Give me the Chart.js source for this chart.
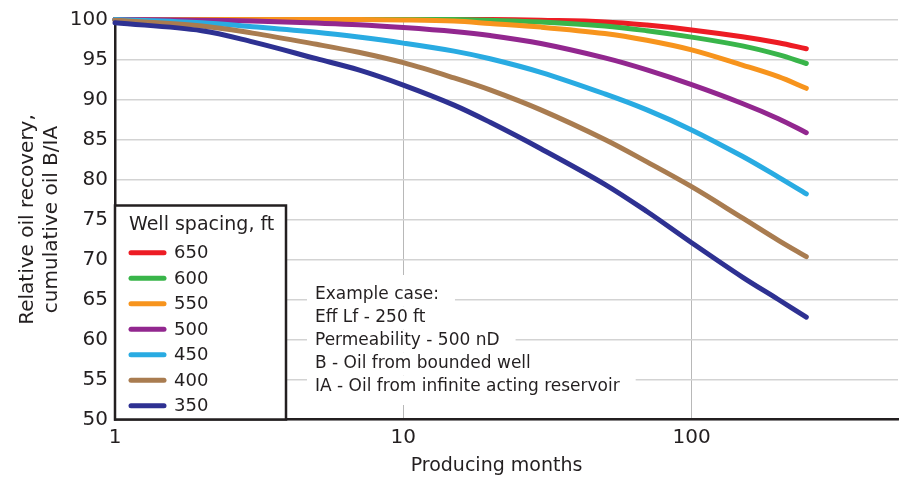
<!DOCTYPE html>
<html><head><meta charset="utf-8">
<script src="https://cdn.jsdelivr.net/npm/chart.js@4.4.1/dist/chart.umd.min.js"></script>
<style>html,body{margin:0;padding:0;background:#fff}canvas{display:block}</style>
</head><body>
<canvas id="c" width="911" height="479"></canvas>
<script>
// ---- data ----
const months     = [1,   2,    3,    5,    7,    10,   15,   20,   30,   50,   70,   100,  150,  200,  250];
const spacing650 = [100, 100,  100,  100,  100,  100,  100,  100,  99.9, 99.7, 99.3, 98.7, 97.85,97.1, 96.35];
const spacing600 = [100, 100,  100,  100,  100,  100,  100,  99.9, 99.7, 99.2, 98.6, 97.8, 96.7, 95.6, 94.5];
const spacing550 = [100, 100,  100,  100,  100,  99.95,99.8, 99.5, 99.05,98.25,97.4, 96.2, 94.3, 92.85,91.4];
const spacing500 = [100, 99.9, 99.8, 99.55,99.35,99.0, 98.5, 98.0, 97.0, 95.2, 93.7, 91.85,89.5, 87.6, 85.85];
const spacing450 = [100, 99.6, 99.1, 98.4, 97.8, 97.05,96.05,95.1, 93.4, 90.7, 88.7, 86.2, 82.9, 80.3, 78.2];
const spacing400 = [99.9,99.2, 98.3, 96.9, 95.9, 94.6, 92.7, 91.2, 88.7, 85.0, 82.2, 79.1, 75.2, 72.4, 70.35];
const spacing350 = [99.6,98.6, 97.2, 95.1, 93.7, 91.8, 89.3, 87.15,83.85,79.4, 76.0, 72.1, 67.8, 65.0, 62.8];
const spacingLabels = ['650','600','550','500','450','400','350'];
const seriesValues  = [spacing650, spacing600, spacing550, spacing500, spacing450, spacing400, spacing350];
const seriesColors  = ['#ed1c24','#39b54a','#f7941d','#92278f','#29abe2','#a97c50','#2e3192'];
const xTickLabels = [1, 10, 100];
const xGridValues = [10, 100];
const legendTitle = 'Well spacing, ft';
const noteLines = ['Example case:', 'Eff Lf - 250 ft', 'Permeability - 500 nD', 'B - Oil from bounded well', 'IA - Oil from infinite acting reservoir'];
const yTitle = ['Relative oil recovery,', 'cumulative oil B/IA'];
const xTitle = 'Producing months';

// ---- styling ----
const FONT = '"DejaVu Sans", "Liberation Sans", sans-serif';
const INK = '#231f20';

const datasets = spacingLabels.map((lab, i) => ({
  label: lab,
  data: months.map((m, j) => ({x: m, y: seriesValues[i][j]})),
  borderColor: seriesColors[i],
  backgroundColor: seriesColors[i],
  borderWidth: 5,
  borderCapStyle: 'round',
  borderJoinStyle: 'round',
  pointRadius: 0,
  tension: 0.35,
  clip: false,
  order: spacingLabels.length - 1 - i
}));

const overlay = {
  id: 'overlay',
  beforeDatasetsDraw(chart) {
    const {ctx, chartArea: ca} = chart;
    ctx.save();
    // note block with white background
    ctx.font = '17px ' + FONT;
    ctx.textBaseline = 'middle';
    ctx.textAlign = 'left';
    const tx = ca.left + 200, rx = ca.left + 192;
    noteLines.forEach((t, i) => {
      const c = ca.bottom - 124.5 + i * 23;
      const top = i === 0 ? ca.bottom - 144.5 : c - 11.5;
      const bot = i === noteLines.length - 1 ? ca.bottom - 14.5 : c + 11.5;
      const w = ctx.measureText(t).width;
      ctx.fillStyle = '#fff';
      ctx.fillRect(rx, top, tx - rx + w + 16, bot - top);
    });
    ctx.fillStyle = INK;
    noteLines.forEach((t, i) => {
      ctx.fillText(t, tx, ca.bottom - 124.5 + i * 23);
    });
    // legend box
    const lx = ca.left, lr = ca.left + 171, lt = ca.bottom - 214, lb = ca.bottom;
    ctx.fillStyle = '#fff';
    ctx.fillRect(lx, lt, lr - lx, lb - lt);
    ctx.strokeStyle = INK;
    ctx.lineWidth = 2.5;
    ctx.strokeRect(lx, lt, lr - lx, lb - lt);
    ctx.fillStyle = INK;
    ctx.font = '19px ' + FONT;
    ctx.fillText(legendTitle, lx + 14, ca.bottom - 194.5);
    ctx.font = '18px ' + FONT;
    spacingLabels.forEach((lab, i) => {
      const cy = ca.bottom - 166.8 + i * 25.5;
      ctx.strokeStyle = seriesColors[i];
      ctx.lineWidth = 5;
      ctx.lineCap = 'round';
      ctx.beginPath();
      ctx.moveTo(lx + 16, cy);
      ctx.lineTo(lx + 49, cy);
      ctx.stroke();
      ctx.fillStyle = INK;
      ctx.fillText(lab, lx + 59, cy + 1);
    });
    // x axis title
    ctx.font = '19px ' + FONT;
    ctx.textAlign = 'center';
    ctx.fillStyle = INK;
    ctx.fillText(xTitle, (ca.left + ca.right) / 2 - 10, ca.bottom + 46.5);
    ctx.restore();
  }
};

new Chart(document.getElementById('c'), {
  type: 'line',
  data: { datasets },
  options: {
    responsive: false,
    devicePixelRatio: 1,
    animation: false,
    layout: { padding: { top: 19.5, right: 13, left: 10, bottom: 0 } },
    plugins: { legend: { display: false }, tooltip: { enabled: false } },
    scales: {
      x: {
        type: 'logarithmic',
        min: 1, max: 520,
        afterFit(s) { s.height = 59.5; },
        border: { color: INK, width: 2.5 },
        grid: {
          drawTicks: false,
          lineWidth: 1,
          color: c => (c.tick && xGridValues.includes(c.tick.value)) ? '#b8b8b8' : 'rgba(0,0,0,0)'
        },
        ticks: {
          autoSkip: false, maxRotation: 0, padding: 6,
          color: INK, font: { family: FONT, size: 20 },
          callback: v => xTickLabels.includes(v) ? String(v) : ''
        },
        title: { display: false }
      },
      y: {
        min: 50, max: 100,
        afterFit(s) { s.width = 105; },
        border: { color: INK, width: 2.5 },
        grid: { drawTicks: false, color: '#d3d3d3', lineWidth: 1.5 },
        ticks: { stepSize: 5, padding: 7, color: INK, font: { family: FONT, size: 20 } },
        title: { display: true, text: yTitle, color: INK, font: { family: FONT, size: 20, lineHeight: 1.2 }, padding: { top: 6, bottom: 0 } }
      }
    }
  },
  plugins: [overlay]
});
</script>
</body></html>
